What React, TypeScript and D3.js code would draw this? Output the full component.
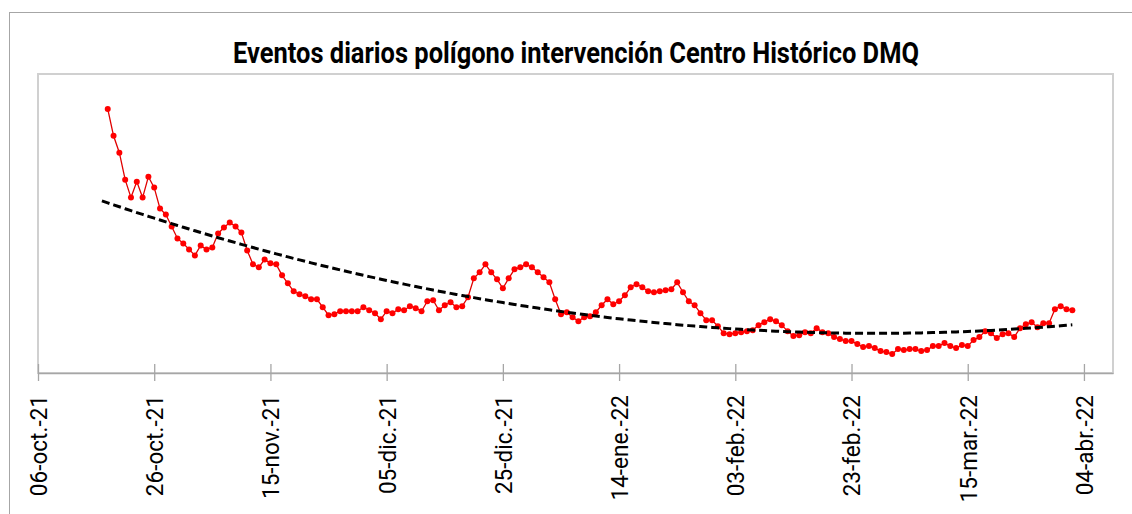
import React, { useRef, useEffect } from 'react';
import * as d3 from 'd3';

// primer día con dato y eventos diarios (un valor por día)
const firstDay = '2021-10-18';
const eventos = [
  265, 238, 221, 194, 176, 192, 176, 197, 186, 165, 159, 147, 135, 130, 124, 118,
  128, 124, 126, 140, 146, 151, 147, 141, 123, 109, 106, 114, 110, 109, 98, 90,
  82, 79, 77, 74, 74, 66, 58, 59, 62, 62, 62, 62, 66, 63, 60, 54,
  62, 60, 64, 63, 67, 65, 62, 72, 73, 63, 68, 71, 66, 67, 76, 95,
  101, 109, 101, 94, 85, 95, 104, 106, 109, 106, 101, 96, 91, 74, 59, 61,
  56, 52, 56, 57, 61, 68, 74, 69, 72, 78, 86, 89, 86, 82, 81, 82,
  83, 84, 91, 81, 72, 68, 60, 53, 53, 47, 40, 39, 40, 41, 42, 43,
  48, 51, 54, 52, 48, 42, 37, 38, 41, 40, 45, 41, 40, 36, 34, 32,
  32, 29, 26, 27, 25, 22, 21, 19, 24, 23, 24, 24, 22, 23, 27, 27,
  30, 27, 25, 28, 27, 33, 36, 42, 40, 35, 39, 40, 36, 45, 49, 51,
  46, 50, 50, 64, 67, 64, 63,
];

const tickDates = [
  '2021-10-06', '2021-10-26', '2021-11-15', '2021-12-05', '2021-12-25',
  '2022-01-14', '2022-02-03', '2022-02-23', '2022-03-15', '2022-04-04',
];
const tickLabels = [
  '06-oct.-21', '26-oct.-21', '15-nov.-21', '05-dic.-21', '25-dic.-21',
  '14-ene.-22', '03-feb.-22', '23-feb.-22', '15-mar.-22', '04-abr.-22',
];

const title = 'Eventos diarios polígono intervención Centro Histórico DMQ';

const DAY = 86400000;

// tendencia polinómica de orden 2 (mínimos cuadrados)
function polyFit2(xs: number[], ys: number[]) {
  const s = [0, 0, 0, 0, 0];
  const t = [0, 0, 0];
  xs.forEach((x, i) => {
    for (let k = 0; k < 5; k++) s[k] += Math.pow(x, k);
    for (let k = 0; k < 3; k++) t[k] += Math.pow(x, k) * ys[i];
  });
  const m = [
    [s[0], s[1], s[2], t[0]],
    [s[1], s[2], s[3], t[1]],
    [s[2], s[3], s[4], t[2]],
  ];
  for (let c = 0; c < 3; c++) {
    for (let r = c + 1; r < 3; r++) {
      const f = m[r][c] / m[c][c];
      for (let k = c; k < 4; k++) m[r][k] -= f * m[c][k];
    }
  }
  const b = [0, 0, 0];
  for (let r = 2; r >= 0; r--) {
    let v = m[r][3];
    for (let k = r + 1; k < 3; k++) v -= m[r][k] * b[k];
    b[r] = v / m[r][r];
  }
  return (x: number) => b[0] + b[1] * x + b[2] * x * x;
}

const App = () => {
  const ref = useRef<SVGSVGElement>(null);

  useEffect(() => {
    const W = 1132;
    const H = 514;
    const plot = { left: 38, right: 1113, top: 74, bottom: 373 };

    const svg = d3.select(ref.current);
    svg.selectAll('*').remove();

    const start = new Date(firstDay + 'T00:00:00Z');
    const data = eventos.map((v, i) => ({ date: new Date(start.getTime() + i * DAY), v }));

    const x = d3.scaleUtc()
      .domain([new Date('2021-10-06T00:00:00Z'), new Date('2022-04-09T00:00:00Z')])
      .range([plot.left, plot.right]);
    const y = d3.scaleLinear().domain([0, 300]).range([plot.bottom, plot.top]);

    svg.append('rect').attr('width', W).attr('height', H).attr('fill', '#fff');

    // borde exterior del gráfico
    svg.append('rect')
      .attr('x', 9.5).attr('y', 12.5)
      .attr('width', W + 20).attr('height', H + 20)
      .attr('fill', 'none').attr('stroke', '#a6a6a6').attr('stroke-width', 1);

    // borde del área de trazado
    svg.append('rect')
      .attr('x', plot.left).attr('y', plot.top)
      .attr('width', plot.right - plot.left).attr('height', plot.bottom - plot.top)
      .attr('fill', 'none').attr('stroke', '#d0d0d0').attr('stroke-width', 2);

    svg.append('text')
      .attr('x', (plot.left + plot.right) / 2 + 0.5)
      .attr('y', 63)
      .attr('text-anchor', 'middle')
      .attr('font-family', 'Roboto, sans-serif')
      .attr('font-weight', 700)
      .attr('font-size', 29)
      .attr('textLength', 686)
      .attr('lengthAdjust', 'spacingAndGlyphs')
      .attr('fill', '#000')
      .text(title);

    // eje x
    const ticks = tickDates.map(d => new Date(d + 'T00:00:00Z'));
    const axis = svg.append('g')
      .attr('transform', `translate(0,${plot.bottom})`)
      .call(
        d3.axisBottom(x)
          .tickValues(ticks)
          .tickSize(0)
          .tickFormat((_d, i) => tickLabels[i])
      );
    axis.select('.domain').attr('stroke', '#a6a6a6').attr('stroke-width', 1.5);
    axis.selectAll('.tick line')
      .attr('y1', -9).attr('y2', 8)
      .attr('stroke', '#a6a6a6').attr('stroke-width', 1.3);
    axis.selectAll('.tick text')
      .attr('font-family', 'Roboto, sans-serif')
      .attr('font-size', 24)
      .attr('fill', '#000')
      .attr('text-anchor', 'end')
      .attr('transform', 'rotate(-90) scale(0.94,1)')
      .attr('x', -22 / 0.94)
      .attr('y', 0)
      .attr('dy', '0.35em');

    // serie diaria
    const line = d3.line<{ date: Date; v: number }>()
      .x(d => x(d.date))
      .y(d => y(d.v));
    svg.append('path')
      .datum(data)
      .attr('d', line)
      .attr('fill', 'none')
      .attr('stroke', '#e00000')
      .attr('stroke-width', 1.3);
    svg.append('g')
      .selectAll('circle')
      .data(data)
      .join('circle')
      .attr('cx', d => x(d.date))
      .attr('cy', d => y(d.v))
      .attr('r', 3)
      .attr('fill', '#ff0000');

    // línea de tendencia (con un período de pronóstico hacia atrás)
    const idx = data.map((_d, i) => i);
    const fit = polyFit2(idx, eventos);
    const trend = [-1, ...idx].map(i => ({ date: new Date(start.getTime() + i * DAY), v: fit(i) }));
    svg.append('path')
      .datum(trend)
      .attr('d', line)
      .attr('fill', 'none')
      .attr('stroke', '#000')
      .attr('stroke-width', 3)
      .attr('stroke-dasharray', '8,4');
  }, []);

  return (
    <svg
      ref={ref}
      width={1132}
      height={514}
      style={{ position: 'absolute', left: 0, top: 0, display: 'block' }}
    />
  );
};

export default App;
